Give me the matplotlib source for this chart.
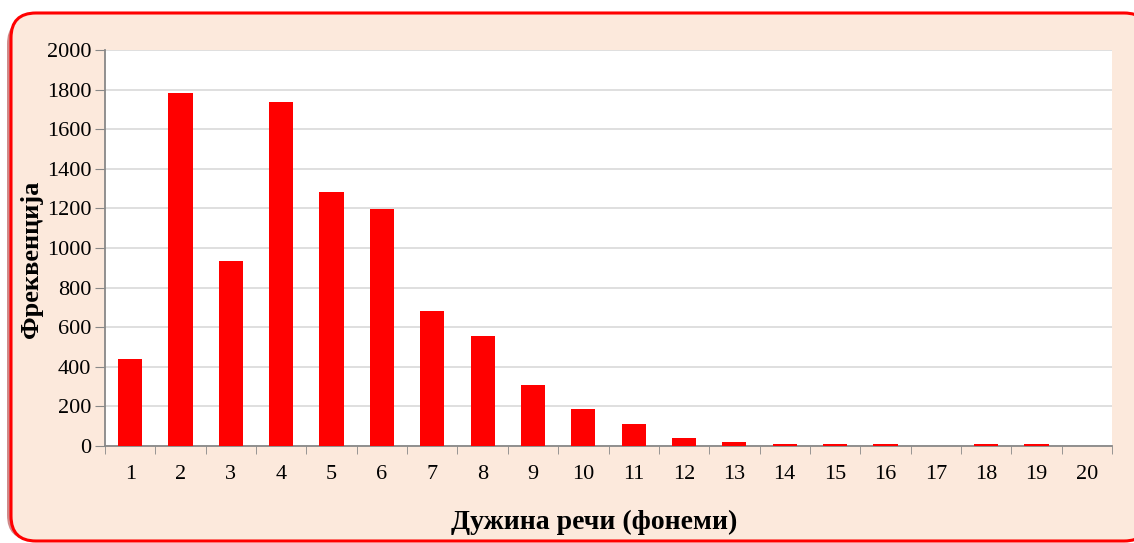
import matplotlib.pyplot as plt
from matplotlib.patches import FancyBboxPatch

# word length in phonemes vs frequency
lengths = ["1", "2", "3", "4", "5", "6", "7", "8", "9", "10",
           "11", "12", "13", "14", "15", "16", "17", "18", "19", "20"]
freqs = [440, 1785, 935, 1735, 1285, 1195, 680, 557, 310, 188,
         110, 38, 20, 10, 10, 10, 0, 10, 10, 0]

W, H = 1134, 543
fig = plt.figure(figsize=(W / 100, H / 100), dpi=100)
plt.rcParams['font.family'] = ['Liberation Serif', 'DejaVu Serif']

# shadow on the left edge, then the rounded background box
shadow = FancyBboxPatch((7 / W, 3 / H), (W - 6) / W, (H - 22) / H,
                        boxstyle="round,pad=0,rounding_size=0.022",
                        transform=fig.transFigure, facecolor="#D08A8A",
                        edgecolor="none", mutation_aspect=W / H, zorder=-2)
fig.add_artist(shadow)
box = FancyBboxPatch((11 / W, 2 / H), (W + 4) / W, (H - 15) / H,
                     boxstyle="round,pad=0,rounding_size=0.022",
                     transform=fig.transFigure, facecolor="#FCE9DC",
                     edgecolor="red", linewidth=2.2, mutation_aspect=W / H,
                     zorder=-1)
fig.add_artist(box)

ax = fig.add_axes([105 / W, (H - 446) / H, (1112 - 105) / W, (446 - 50) / H])
ax.set_zorder(1)
ax.set_facecolor("white")
x = range(len(lengths))
ax.bar(x, freqs, width=0.48, color="red", zorder=3)

ax.set_xlim(-0.5, len(lengths) - 0.5)
ax.set_ylim(0, 2000)
ax.set_yticks(range(0, 2001, 200))
ax.set_xticks(list(x))
ax.set_xticklabels(lengths)
ax.set_xticks([i - 0.5 for i in range(len(lengths) + 1)], minor=True)
ax.tick_params(axis="x", which="major", length=0, pad=14, labelsize=16)
ax.tick_params(axis="x", which="minor", length=6, color="#888888")
ax.tick_params(axis="y", length=7, color="#888888", labelsize=16, pad=3)
ax.grid(axis="y", color="#D9D9D9", linewidth=1.2, zorder=0)

for side in ["top", "right"]:
    ax.spines[side].set_visible(False)
ax.spines["left"].set_color("#888888")
ax.spines["bottom"].set_color("#888888")
ax.spines["left"].set_linewidth(1.3)
ax.spines["bottom"].set_linewidth(1.3)

fig.text(32 / W, 1 - 259 / H, "Фреквенција", rotation=90, ha="center",
         va="center", fontsize=19, fontweight="bold")
fig.text(594 / W, 1 - 522 / H, "Дужина речи (фонеми)", ha="center",
         va="center", fontsize=20, fontweight="bold")

fig.savefig("out.png", dpi=100)
